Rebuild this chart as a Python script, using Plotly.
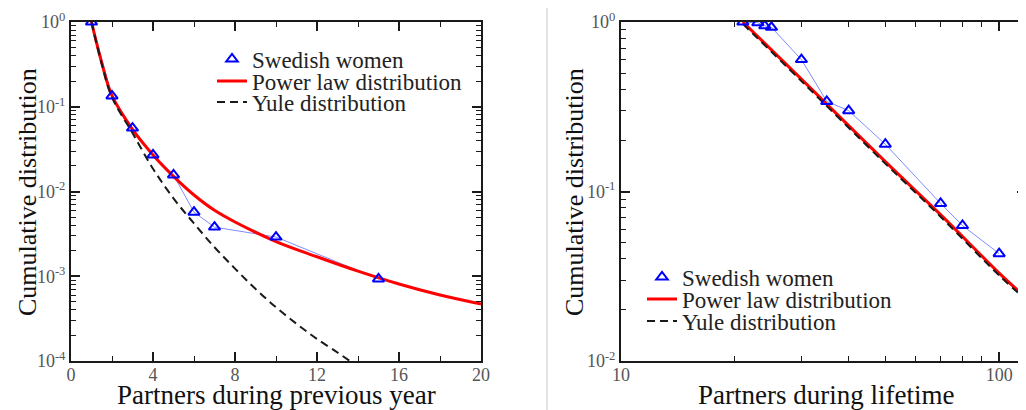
import plotly.graph_objects as go

# ---------------- Data: left panel (partners during previous year) ----------------
prev_year_x = [1, 2, 3, 4, 5, 6, 7, 10, 15]
prev_year_women = [1.0, 0.134, 0.056, 0.027, 0.0157, 0.0057, 0.0038, 0.0029, 0.00093]

prev_power_x = [1, 1.5, 2, 3, 4, 5, 6, 7, 8, 10, 12, 14, 16, 18, 20]
prev_power_y = [1.0, 0.33, 0.135, 0.054, 0.027, 0.0151, 0.0091, 0.0060, 0.00437,
                0.00257, 0.0017, 0.00115, 0.00081, 0.0006, 0.00047]

prev_yule_x = [1, 1.5, 2, 3, 4, 5, 6, 7, 8, 9, 10, 11, 12, 13, 13.6]
prev_yule_y = [1.0, 0.32, 0.129, 0.049, 0.0186, 0.0083, 0.0042, 0.0022, 0.00123,
               0.00071, 0.00043, 0.000275, 0.000182, 0.000126, 0.0001]

# ---------------- Data: right panel (partners during lifetime) ----------------
life_x = [21, 23, 24, 25, 30, 35, 40, 50, 70, 80, 100]
life_women = [1.0, 0.99, 0.95, 0.93, 0.60, 0.34, 0.30, 0.19, 0.085, 0.063, 0.043]

life_power_x = [21, 30, 50, 70, 100, 118]
life_power_y = [1.0, 0.46, 0.15, 0.073, 0.033, 0.0235]

life_yule_x = [21, 30, 50, 70, 100, 118]
life_yule_y = [0.975, 0.448, 0.146, 0.071, 0.032, 0.0229]

# tick labels
prev_x_ticks = [0, 4, 8, 12, 16, 20]
prev_y_ticks = [1e-4, 1e-3, 1e-2, 1e-1, 1]
prev_y_text = ["10<sup>-4</sup>", "10<sup>-3</sup>", "10<sup>-2</sup>", "10<sup>-1</sup>", "10<sup>0</sup>"]
life_x_ticks = [10, 100]
life_x_text = ["10", "100"]
life_y_ticks = [1e-2, 1e-1, 1]
life_y_text = ["10<sup>-2</sup>", "10<sup>-1</sup>", "10<sup>0</sup>"]

names = ["Swedish women", "Power law distribution", "Yule distribution"]

# page offset of the plot div (default body margin) is compensated below
OFF = 8
SHIFT = 6
W, H = 1026 - OFF, 410 - OFF
SERIF = "Liberation Serif"

BLUE = "#0000ff"
BLUE_LINE = "#7f8cff"
RED = "#ff0000"
BLACK = "#1a1a1a"

fig = go.Figure()


def add_panel(xa, ya, sx, sy, px, py, yx, yy, legs):
    # thin connecting line for data
    fig.add_trace(go.Scatter(x=sx, y=sy, mode="lines", xaxis=xa, yaxis=ya,
                             line=dict(color=BLUE_LINE, width=1), showlegend=False,
                             hoverinfo="skip"))
    fig.add_trace(go.Scatter(x=px, y=py, mode="lines", xaxis=xa, yaxis=ya, name=names[1],
                             line=dict(color=RED, width=3, shape="spline", smoothing=1.0),
                             legend=legs[1]))
    fig.add_trace(go.Scatter(x=yx, y=yy, mode="lines", xaxis=xa, yaxis=ya, name=names[2],
                             line=dict(color=BLACK, width=2, dash="8px,5px", shape="spline",
                                       smoothing=1.0),
                             legend=legs[2]))
    fig.add_trace(go.Scatter(x=sx, y=sy, mode="markers", xaxis=xa, yaxis=ya, name=names[0],
                             marker=dict(symbol="triangle-up-open", size=10, color=BLUE,
                                         line=dict(color=BLUE, width=2)),
                             legend=legs[0]))


add_panel("x", "y", prev_year_x, prev_year_women, prev_power_x, prev_power_y,
          prev_yule_x, prev_yule_y, ["legend", "legend2", "legend3"])
add_panel("x2", "y2", life_x, life_women, life_power_x, life_power_y,
          life_yule_x, life_yule_y, ["legend4", "legend5", "legend6"])

axis_common = dict(showline=True, linecolor=BLACK, linewidth=2, mirror="ticks",
                   ticks="inside", ticklen=9, tickwidth=1.5, tickcolor=BLACK,
                   showgrid=False, zeroline=False, automargin=False,
                   ticklabeloverflow="allow",
                   tickfont=dict(family=SERIF, size=18, color="#555555"))
minor_common = dict(ticks="inside", ticklen=5, tickwidth=1.2, tickcolor=BLACK, showgrid=False)


def px2x(p):
    return (p - SHIFT) / W


def px2y(p):
    return (H - (p - SHIFT)) / H


def log_minor(e0, e1):
    return [k * 10.0 ** e for e in range(e0, e1) for k in range(2, 10)]


def legend_box(xp, yp):
    return dict(x=px2x(xp), y=px2y(yp), xanchor="left", yanchor="middle",
                bgcolor="rgba(0,0,0,0)", borderwidth=0,
                font=dict(family=SERIF, size=23, color="#222222"))


fig.update_layout(
    width=W, height=H,
    margin=dict(l=0, r=0, t=0, b=0, autoexpand=False),
    paper_bgcolor="white", plot_bgcolor="white",
    xaxis=dict(domain=[px2x(69), px2x(479)], range=[0, 20], tickmode="array",
               tickvals=prev_x_ticks, ticktext=[str(v) for v in prev_x_ticks],
               ticklabelstandoff=-4,
               minor=dict(dtick=2, **minor_common), anchor="y", **axis_common),
    yaxis=dict(domain=[px2y(359), px2y(20)], type="log", range=[-4, 0], tickmode="array",
               tickvals=prev_y_ticks, ticktext=prev_y_text,
               minor=dict(tickmode="array", tickvals=log_minor(-4, 0), **minor_common),
               anchor="x", **axis_common),
    xaxis2=dict(domain=[px2x(619), 1.0], type="log", range=[1, 2.071], tickmode="array",
                tickvals=life_x_ticks, ticktext=life_x_text,
                ticklabelstandoff=-4,
                minor=dict(tickmode="array", tickvals=[20, 30, 40, 50, 60, 70, 80, 90],
                           **minor_common),
                anchor="y2", **axis_common),
    yaxis2=dict(domain=[px2y(359), px2y(20)], type="log", range=[-2, 0], tickmode="array",
                tickvals=life_y_ticks, ticktext=life_y_text,
                minor=dict(tickmode="array", tickvals=log_minor(-2, 0), **minor_common),
                anchor="x2", **axis_common),
    legend=legend_box(210, 57),
    legend2=legend_box(210, 79),
    legend3=legend_box(210, 100),
    legend4=legend_box(640, 275),
    legend5=legend_box(640, 297),
    legend6=legend_box(640, 319),
    shapes=[dict(type="line", xref="paper", yref="paper", x0=px2x(545), x1=px2x(545),
                 y0=0, y1=1, line=dict(color="#c8c8c8", width=1))],
)

annotations = [
    dict(text="Partners during previous year", x=px2x(274), y=px2y(393), size=27),
    dict(text="Partners during lifetime", x=px2x(824), y=px2y(393), size=27),
    dict(text="Cumulative distribution", x=px2x(25), y=px2y(190), textangle=-90, size=26),
    dict(text="Cumulative distribution", x=px2x(572), y=px2y(190), textangle=-90, size=26),
]
for a in annotations:
    size = a.pop("size")
    fig.add_annotation(xref="paper", yref="paper", xanchor="center", yanchor="middle",
                       showarrow=False, font=dict(family=SERIF, size=size, color="#111111"),
                       **a)

fig.write_html("out.html")
